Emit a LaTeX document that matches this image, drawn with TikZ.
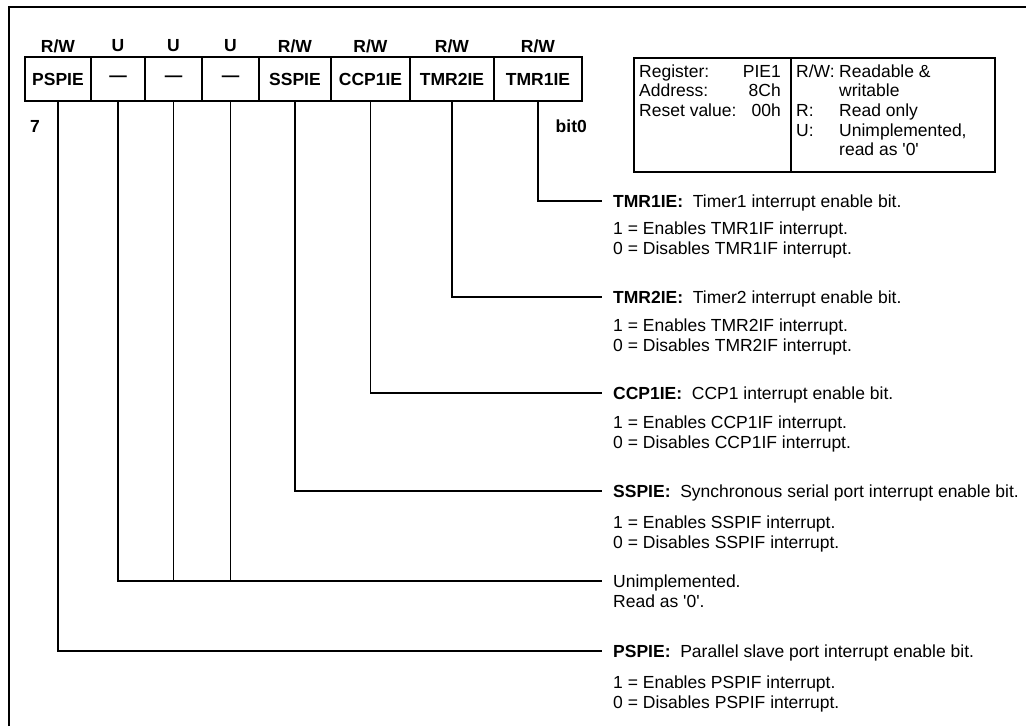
\documentclass[tikz,border=0pt]{standalone}
\usepackage{fontspec}
\setmainfont{Liberation Sans}
\begin{document}
\begin{tikzpicture}[x=1pt,y=-1pt,
  txt/.style={font=\fontsize{17.5}{20}\selectfont},
  cell/.style={draw, line width=1.6pt, minimum height=44pt, inner sep=0pt, font=\fontsize{17.5}{20}\selectfont\bfseries},
  lbl/.style={font=\fontsize{17.5}{20}\selectfont\bfseries, inner sep=0pt},
  wire/.style={line width=1.6pt},
  frame/.style={draw, line width=1.6pt, inner sep=0pt, anchor=north west},
  desc/.style={txt, anchor=west, inner xsep=11pt, inner ysep=0pt, text height=12.6pt, text depth=0pt},
  sub/.style={txt, anchor=west, inner sep=0pt, text height=12.6pt, text depth=0pt},
  info/.style={txt, anchor=west, inner sep=0pt, text height=12.6pt, text depth=0pt},
  infor/.style={txt, anchor=east, inner sep=0pt, text height=12.6pt, text depth=0pt}]
\useasboundingbox (0,0) rectangle (1026,726);
% outer frame
\draw[wire] (9,726) -- (9,7) -- (1026,7);
% register cells
\node[cell, minimum width=66pt] (c7) at (58,79) {PSPIE};
\node[cell, minimum width=54pt] (c6) at (118,79) {—};
\node[cell, minimum width=57pt] (c5) at (173.5,79) {—};
\node[cell, minimum width=57pt] (c4) at (230.5,79) {—};
\node[cell, minimum width=72pt] (c3) at (295,79) {SSPIE};
\node[cell, minimum width=79pt] (c2) at (370.5,79) {CCP1IE};
\node[cell, minimum width=84pt] (c1) at (452,79) {TMR2IE};
\node[cell, minimum width=88pt] (c0) at (538,79) {TMR1IE};
% access labels
\node[lbl] (a7) at (58,46) {R/W};
\node[lbl] (a6) at (118,46) {U};
\node[lbl] (a5) at (173.5,46) {U};
\node[lbl] (a4) at (230.5,46) {U};
\node[lbl] (a3) at (295,46) {R/W};
\node[lbl] (a2) at (370.5,46) {R/W};
\node[lbl] (a1) at (452,46) {R/W};
\node[lbl] (a0) at (538,46) {R/W};
\node[lbl, anchor=west] (b7) at (30,126) {7};
\node[lbl, anchor=east] (b0) at (587,126) {bit0};
% info box
\node[frame, minimum width=157pt, minimum height=114pt] (ib1) at (633,57) {};
\node[frame, minimum width=204pt, minimum height=114pt] (ib2) at (790,57) {};
\node[info] (r1) at (639,71) {Register:};
\node[info] (r2) at (639,90) {Address:};
\node[info] (r3) at (639,110) {Reset value:};
\node[infor] (v1) at (781,71) {PIE1};
\node[infor] (v2) at (781,90) {8Ch};
\node[infor] (v3) at (781,110) {00h};
\node[info] (k1) at (796,71) {R/W:};
\node[info] (k2) at (796,110) {R:};
\node[info] (k3) at (796,130) {U:};
\node[info] (m1) at (839,71) {Readable \&};
\node[info] (m2) at (839,90) {writable};
\node[info] (m3) at (839,110) {Read only};
\node[info] (m4) at (839,130) {Unimplemented,};
\node[info] (m5) at (839,149) {read as \textquotesingle 0\textquotesingle};
% descriptions
\node[desc] (t0) at (602,201) {\textbf{TMR1IE:}\ \ Timer1 interrupt enable bit.};
\node[sub] (t0a) at (613,228) {1 = Enables TMR1IF interrupt.};
\node[sub] (t0b) at (613,248) {0 = Disables TMR1IF interrupt.};
\node[desc] (t1) at (602,297) {\textbf{TMR2IE:}\ \ Timer2 interrupt enable bit.};
\node[sub] (t1a) at (613,325) {1 = Enables TMR2IF interrupt.};
\node[sub] (t1b) at (613,345) {0 = Disables TMR2IF interrupt.};
\node[desc] (t2) at (602,393) {\textbf{CCP1IE:}\ \ CCP1 interrupt enable bit.};
\node[sub] (t2a) at (613,422) {1 = Enables CCP1IF interrupt.};
\node[sub] (t2b) at (613,442) {0 = Disables CCP1IF interrupt.};
\node[desc] (t3) at (602,491) {\textbf{SSPIE:}\ \ Synchronous serial port interrupt enable bit.};
\node[sub] (t3a) at (613,522) {1 = Enables SSPIF interrupt.};
\node[sub] (t3b) at (613,542) {0 = Disables SSPIF interrupt.};
\node[desc] (tu) at (602,581) {Unimplemented.};
\node[sub] (tua) at (613,601) {Read as \textquotesingle 0\textquotesingle.};
\node[desc] (t7) at (602,651) {\textbf{PSPIE:}\ \ Parallel slave port interrupt enable bit.};
\node[sub] (t7a) at (613,682) {1 = Enables PSPIF interrupt.};
\node[sub] (t7b) at (613,702) {0 = Disables PSPIF interrupt.};
% connectors
\draw[wire] (c0.south) |- (t0.west);
\draw[wire] (c1.south) |- (t1.west);
\draw[wire] (c2.south) |- (t2.west);
\draw[wire] (c3.south) |- (t3.west);
\draw[wire] (c6.south) |- (tu.west);
\draw[wire] (c5.south) -- (c5.south |- tu.west);
\draw[wire] (c4.south) -- (c4.south |- tu.west);
\draw[wire] (c7.south) |- (t7.west);
\end{tikzpicture}
\end{document}
